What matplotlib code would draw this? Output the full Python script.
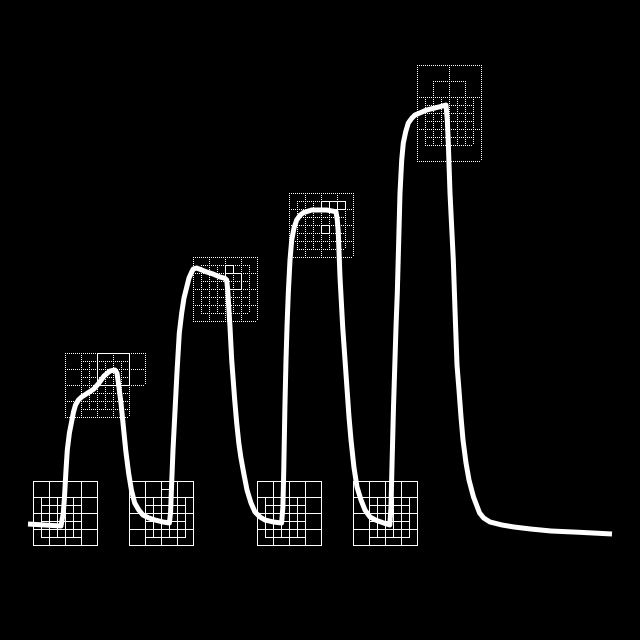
"""
Response curve with quadtree grids over the valleys (solid) and peaks (dotted).
Coordinates are in image pixels, origin top-left.
"""

import numpy as np
import matplotlib
matplotlib.use("Agg")
import matplotlib.pyplot as plt

SIZE = 640

# curve (pixel coords)
CURVE = [
    (28, 524), (61, 526), (63.3, 513), (64.5, 497), (66, 470), (67.3, 450),
    (69.4, 433), (71.4, 423), (73.5, 412), (75.5, 405), (78.4, 400),
    (81.6, 397), (87.8, 393), (93.9, 389), (99, 383), (104, 376), (110, 371),
    (115, 370), (117, 373), (118.4, 383), (121, 403), (123, 423),
    (125.7, 450), (128.6, 473), (131.4, 490), (134.7, 503), (138.8, 510),
    (142.9, 515), (149, 518), (155, 520), (163, 522), (169.4, 523),
    (170.6, 512), (171.4, 490), (173, 450), (175, 410), (177, 372),
    (179.3, 333), (181.7, 313), (184, 298), (186.7, 287), (189, 278),
    (191.7, 272), (193.3, 269), (196.7, 268), (201.7, 270), (206.7, 272),
    (213, 274), (220, 277), (225, 278.3), (226.7, 280), (227.7, 290),
    (228.3, 300), (230, 327), (231.7, 360), (232.7, 373), (234.7, 400),
    (236.7, 423), (238.8, 443), (240.8, 457), (243.7, 473), (247, 490),
    (251, 503), (255, 512), (260, 517), (265, 520), (273.5, 522),
    (281.6, 523), (282.9, 507), (283.7, 473), (284.9, 407), (286, 360),
    (287, 327), (288.3, 293), (290, 260), (291.7, 240), (294, 228),
    (296.7, 220), (300, 215.3), (303.3, 212.7), (311.7, 210), (326.7, 210),
    (336, 211.7), (337.3, 220), (338.3, 233), (340, 277), (342.7, 327),
    (345, 360), (347, 390), (349, 417), (351, 440), (353.9, 467), (357, 487),
    (361, 500), (365, 510), (370, 517), (375.5, 520), (383.7, 523),
    (389.8, 525), (391, 507), (391.8, 473), (393.5, 407), (395, 360),
    (396, 327), (397.3, 293), (398.7, 243), (400, 193), (401.7, 160),
    (403.3, 143), (405.7, 131.7), (408.3, 123), (411.7, 118.3), (415, 115),
    (426.7, 110), (440, 106.7), (446, 105), (447.3, 120), (448.3, 143),
    (450, 193), (453.3, 260), (455, 310), (457, 365),
    (459, 390), (461, 417), (463, 440), (466, 463), (469, 480),
    (473.5, 497), (479.6, 513), (483.7, 518), (490, 522), (502, 525),
    (514, 527), (530.6, 529), (551, 531), (579.6, 532.3), (612, 534),
]
CURVE_X = [p[0] for p in CURVE]
CURVE_Y = [p[1] for p in CURVE]

# solid quadtree grids under the valleys
VALLEY_X0 = [32, 128, 256, 352]
VALLEY_Y0 = 480
VALLEY_FINE_DX = [8, 16, 8, 16]

# dotted grids at the peaks: (x0, y0, w, h, step)
PEAK_REGIONS = [
    (64, 352, 64, 64, 16), (128, 352, 16, 32, 16), (80, 360, 48, 48, 8),
    (192, 256, 64, 64, 16), (200, 264, 48, 48, 8),
    (288, 192, 64, 64, 16), (296, 200, 48, 48, 8),
    (416, 64, 64, 96, 32), (432, 80, 32, 64, 16), (424, 96, 48, 48, 8),
]
# solid cells inside the peak grids: (x0, y0, size)
PEAK_SOLID = [
    (96, 352, 32),
    (224, 264, 8), (224, 272, 16),
    (320, 200, 8), (328, 200, 8), (336, 200, 8), (320, 224, 8),
]
EXTRA_SOLID = [(160, 488, 8)]

PX = 72 / 100   # one pixel in points at dpi 100


def draw_region(ax, x0, y0, w, h, step, **kw):
    for x in np.arange(x0, x0 + w + 0.1, step):
        ax.plot([x + 0.5, x + 0.5], [y0 + 0.5, y0 + h + 0.5], **kw)
    for y in np.arange(y0, y0 + h + 0.1, step):
        ax.plot([x0 + 0.5, x0 + w + 0.5], [y + 0.5, y + 0.5], **kw)


def main():
    fig = plt.figure(figsize=(6.4, 6.4), dpi=100, facecolor="black")
    ax = fig.add_axes([0, 0, 1, 1])
    ax.set_facecolor("black")
    ax.set_xlim(0, SIZE)
    ax.set_ylim(SIZE, 0)
    ax.axis("off")

    solid = dict(color="white", linewidth=PX, solid_capstyle="butt",
                 antialiased=False)
    dotted = dict(color="white", linewidth=PX, linestyle=(0, (1, 2)),
                  antialiased=False)

    # valley grids
    for x0, fdx in zip(VALLEY_X0, VALLEY_FINE_DX):
        draw_region(ax, x0, VALLEY_Y0, 64, 64, 16, **solid)
        draw_region(ax, x0 + fdx, VALLEY_Y0 + 16, 40, 40, 8, **solid)
    for x0, y0, s in EXTRA_SOLID:
        draw_region(ax, x0, y0, s, s, s, **solid)

    # peak grids
    for x0, y0, w, h, st in PEAK_REGIONS:
        draw_region(ax, x0, y0, w, h, st, **dotted)
    for x0, y0, s in PEAK_SOLID:
        draw_region(ax, x0, y0, s, s, s, **solid)

    ax.plot(CURVE_X, CURVE_Y, color="white", linewidth=5 * PX,
            solid_capstyle="butt", solid_joinstyle="round", zorder=5)

    fig.savefig("out.png", dpi=100, facecolor="black")
    plt.close(fig)


if __name__ == "__main__":
    main()
